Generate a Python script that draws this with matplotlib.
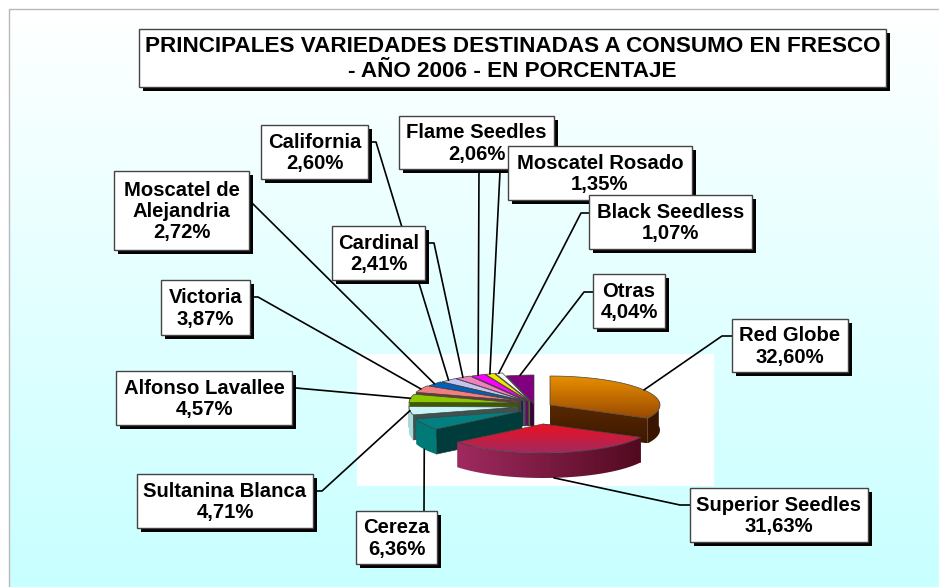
import matplotlib
matplotlib.use("Agg")
import matplotlib.pyplot as plt
import numpy as np
from matplotlib.colors import LinearSegmentedColormap
from matplotlib.patches import Polygon, Rectangle

plt.rcParams['font.family'] = ['Liberation Sans', 'DejaVu Sans']

# Data
title = "PRINCIPALES VARIEDADES DESTINADAS A CONSUMO EN FRESCO\n- AÑO 2006 - EN PORCENTAJE"
varieties = ["Red Globe", "Superior Seedles", "Cereza", "Sultanina Blanca", "Alfonso Lavallee",
             "Victoria", "Moscatel de\nAlejandria", "California", "Cardinal", "Flame Seedles",
             "Moscatel Rosado", "Black Seedless", "Otras"]
shares = [32.60, 31.63, 6.36, 4.71, 4.57, 3.87, 2.72, 2.60, 2.41, 2.06, 1.35, 1.07, 4.04]

# top, cut face and outer wall colours
top_colors = ["#e88c00", "#e8102c", "#008080", "#c8f6f6", "#8cc800", "#f08080", "#0060c0",
              "#c4c4f0", "#f080c0", "#ff00ff", "#e8e800", "#f6f6f6", "#800080"]
face_colors = ["#4e2200", "#802050", "#003c3c", "#3e5252", "#3e5a00", "#6c3a3a", "#002c58",
               "#58586c", "#6c3a56", "#700070", "#686800", "#8a8a8a", "#3a003a"]
wall_colors = ["#3a1600", "#802050", "#007a76", "#a4dcdc", "#5c8400", "#a05454", "#004080",
               "#8282a0", "#a05480", "#a000a0", "#989800", "#b0b0b0", "#500050"]

# Pie geometry, in pixels
cx, cy = 530, 403
rx, ry = 110, 29
depth = 25
# shift of each slice from the pie centre
shifts = [(20, 2), (13, 21), (-8, 8), (-11, 4), (-11, 0), (-9, -2), (-7, -2), (-5, -2),
          (-4, -2), (-2, -2), (-1, -2), (0, -2), (4, 1)]

# box of each label: left, top, right, bottom
boxes = [(732, 319, 848, 372), (690, 488, 868, 542), (356, 511, 437, 564), (137, 474, 313, 528),
         (116, 371, 292, 425), (161, 280, 250, 335), (114, 171, 249, 250), (261, 125, 368, 179),
         (332, 226, 425, 280), (399, 116, 554, 169), (508, 146, 692, 200), (589, 195, 752, 249),
         (593, 274, 665, 328)]
# leader start on the box side
elbows = [[(732, 336), (722, 336)], [(690, 505), (680, 505)], [(424, 511)], [(317, 491), (322, 491)],
          [(296, 388)], [(250, 297), (258, 297)], [(249, 200)], [(368, 142), (376, 142)],
          [(425, 243), (434, 243)], [(479, 169)], [(500, 172)], [(589, 213), (581, 213)],
          [(593, 292), (584, 292)]]
draw_order = [12, 11, 10, 9, 8, 7, 6, 5, 4, 3, 2, 0, 1]

fig = plt.figure(figsize=(9.39, 5.87), dpi=100)
ax = fig.add_axes([0, 0, 1, 1])
ax.axis("off")


def gradient(verts, c0, c1, vertical=True, zorder=2):
    # polygon filled with a linear colour ramp
    verts = np.array(verts)
    x0, y0 = verts.min(axis=0)
    x1, y1 = verts.max(axis=0)
    ramp = np.linspace(0, 1, 128)
    ramp = ramp.reshape(-1, 1) if vertical else ramp.reshape(1, -1)
    cmap = LinearSegmentedColormap.from_list("r", [c0, c1])
    im = ax.imshow(ramp, cmap=cmap, extent=(x0, x1, y1, y0), aspect="auto", origin="upper", zorder=zorder)
    im.set_clip_path(Polygon(verts, transform=ax.transData))


def on_rim(theta, ox, oy):
    return ox + rx * np.sin(theta), oy - ry * np.cos(theta)


# Background
gradient([(9, 9), (939, 9), (939, 587), (9, 587)], "#ffffff", "#c8ffff", zorder=0)
ax.plot([9, 9, 939], [587, 9, 9], color="#b8b8b8", lw=1, zorder=1)
ax.add_patch(Rectangle((357, 354), 357, 132, facecolor="white", edgecolor="none", zorder=1))

# Slices
edges = np.cumsum([0] + shares) / sum(shares) * 2 * np.pi
tips = []
for i in range(len(shares)):
    mid = (edges[i] + edges[i + 1]) / 2
    ox, oy = cx + shifts[i][0], cy + shifts[i][1]
    tx, ty = on_rim(mid, ox, oy)
    # the two big front slices take their leader from the bottom of the wall
    tips.append((tx, ty + depth if np.cos(mid) < -0.4 else ty))

for z, i in enumerate(draw_order):
    z0 = 3 + z
    ox, oy = cx + shifts[i][0], cy + shifts[i][1]
    t = np.linspace(edges[i], edges[i + 1], 60)
    arc = np.column_stack(on_rim(t, ox, oy))
    low = arc + [0, depth]

    # cut face turned to the viewer
    end = arc[-1] if i == 0 else arc[0]
    face = [(ox, oy), tuple(end), (end[0], end[1] + depth), (ox, oy + depth)]
    if i == 0:
        gradient(face, "#5a2800", "#3c1800", zorder=z0)
    else:
        ax.add_patch(Polygon(face, facecolor=face_colors[i], edgecolor="#333333", lw=0.4, zorder=z0))

    # outer wall, only the part that faces us
    front = np.cos(t) < 0.15
    if front.any():
        wall = np.vstack([arc[front], low[front][::-1]])
        if i == 1:
            gradient(wall, "#a02a60", "#520a20", vertical=False, zorder=z0)
        else:
            ax.add_patch(Polygon(wall, facecolor=wall_colors[i], edgecolor="none", zorder=z0))

    # top
    top = np.vstack([[(ox, oy)], arc])
    if i == 0:
        gradient(top, "#ea9000", "#9a4a00", zorder=z0)
    elif i == 1:
        gradient(top, "#ee1020", "#a02a60", zorder=z0)
    else:
        ax.add_patch(Polygon(top, facecolor=top_colors[i], edgecolor="none", zorder=z0))
    ax.add_patch(Polygon(top, facecolor="none", edgecolor="#444444", lw=0.5, zorder=z0))

# Leaders
for elbow, tip in zip(elbows, tips):
    pts = np.array(elbow + [tip])
    ax.plot(pts[:, 0], pts[:, 1], color="black", lw=1.2, zorder=20, solid_capstyle="round")


def label_box(box, text, size, spacing, z):
    x0, y0, x1, y1 = box
    ax.add_patch(Rectangle((x0 + 4, y0 + 4), x1 - x0, y1 - y0, facecolor="black", edgecolor="none", zorder=z))
    ax.add_patch(Rectangle((x0, y0), x1 - x0, y1 - y0, facecolor="white", edgecolor="#444444", lw=1, zorder=z + 0.1))
    ax.text((x0 + x1) / 2, (y0 + y1) / 2 + 1, text, ha="center", va="center", fontsize=size,
            fontweight="bold", color="black", linespacing=spacing, zorder=z + 0.2)


# Labels
for i, (name, share, box) in enumerate(zip(varieties, shares, boxes)):
    value = f"{share:.2f}".replace(".", ",")
    label_box(box, f"{name}\n{value}%", 14.6, 1.15, 30 + i)

label_box((139, 29, 886, 87), title, 16.2, 1.22, 50)

ax.set_xlim(0, 939)
ax.set_ylim(587, 0)
fig.savefig("out.png", dpi=100)
